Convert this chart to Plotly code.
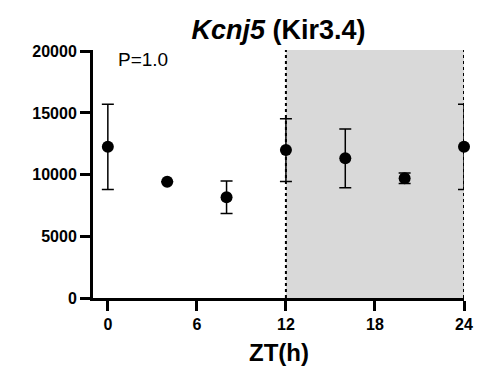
import plotly.graph_objects as go

zt = [0, 4, 8, 12, 16, 20, 24]
mean_vals = [12250, 9420, 8160, 11990, 11320, 9700, 12250]
sem_vals = [3450, 0, 1320, 2540, 2380, 430, 3450]
x_ticks = [0, 6, 12, 18, 24]
y_ticks = [0, 5000, 10000, 15000, 20000]
title_text = "<b><i>Kcnj5</i> (Kir3.4)</b>"
x_title = "<b>ZT(h)</b>"
p_text = "P=1.0"
dark_start, dark_end = 12, 24
y_top = 20100

FONT = "Arial, Liberation Sans, sans-serif"

fig = go.Figure()
fig.add_trace(go.Scatter(
    x=zt, y=mean_vals, mode="markers",
    marker=dict(color="black", size=12),
    error_y=dict(type="data", array=sem_vals, visible=True,
                 color="black", thickness=1.5, width=6),
    showlegend=False, cliponaxis=False,
))

fig.add_shape(type="rect", x0=dark_start, x1=dark_end, y0=0, y1=y_top,
              xref="x", yref="y", fillcolor="#d9d9d9", line=dict(width=0),
              layer="below")
for xv in (dark_start, dark_end):
    fig.add_shape(type="line", x0=xv, x1=xv, y0=0, y1=y_top, xref="x", yref="y",
                  line=dict(color="black", width=2, dash="dot"), layer="below")

fig.add_annotation(x=0.55, y=19300, xref="x", yref="y", text=p_text,
                   showarrow=False, xanchor="left", yanchor="middle",
                   font=dict(family=FONT, size=19, color="black"))

fig.add_annotation(x=0.5, y=0, xref="paper", yref="paper", text=x_title,
                   showarrow=False, xanchor="center", yanchor="middle",
                   yshift=-54,
                   font=dict(family=FONT, size=24, color="black"))

fig.update_layout(
    width=490, height=368,
    margin=dict(l=93, r=26, t=50, b=70, autoexpand=False),
    paper_bgcolor="white", plot_bgcolor="white",
    font=dict(family=FONT, color="black"),
    title=dict(text=title_text, x=0.5, xref="paper", xanchor="center",
               y=1 - 30 / 368, yref="container", yanchor="middle",
               font=dict(family=FONT, size=27, color="black")),
)
fig.update_xaxes(
    range=[-1, 24], tickvals=x_ticks, ticktext=[f"<b>{v}</b>" for v in x_ticks],
    showline=True, linecolor="black", linewidth=3, ticks="outside",
    ticklen=10, tickwidth=3, tickcolor="black", showgrid=False, zeroline=False,
    tickfont=dict(family=FONT, size=16, color="black"), automargin=False,
)
fig.update_yaxes(
    range=[0, y_top], tickvals=y_ticks, ticktext=[f"<b>{v}</b>" for v in y_ticks],
    showline=True, linecolor="black", linewidth=3, ticks="outside",
    ticklen=10, tickwidth=3, tickcolor="black", showgrid=False, zeroline=False,
    tickfont=dict(family=FONT, size=16, color="black"), automargin=False,
)

fig.write_html("out.html")
